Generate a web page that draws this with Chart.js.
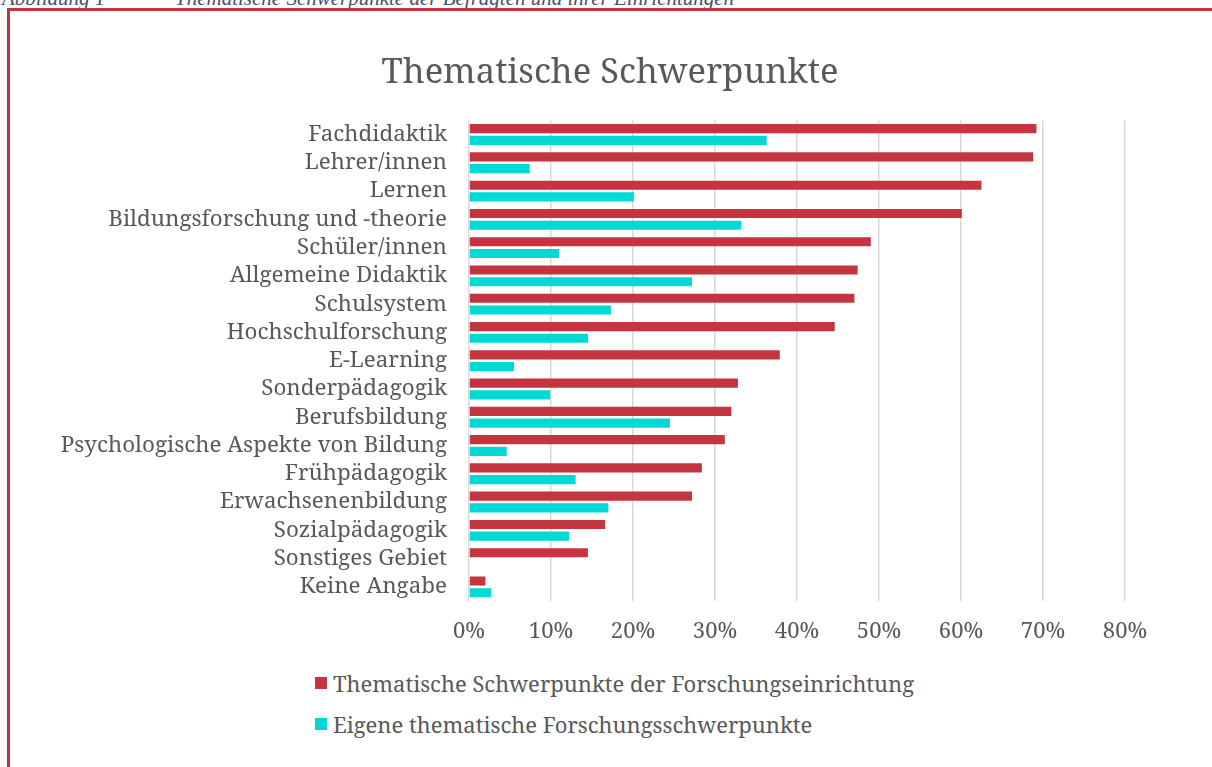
<!DOCTYPE html>
<html lang="de">
<head>
<meta charset="utf-8">
<title>Thematische Schwerpunkte</title>
<script src="https://cdn.jsdelivr.net/npm/chart.js@4.4.1/dist/chart.umd.min.js"></script>
<style>
  html, body { margin: 0; padding: 0; background: #fff; }
  body { width: 1212px; height: 767px; position: relative; overflow: hidden; font-family: "Noto Serif", "DejaVu Serif Condensed", serif; }
  #caption { position: absolute; left: 2px; top: -14px; font-family: "Liberation Serif", serif; font-style: italic; font-size: 21px; color: #44546A; white-space: nowrap; }
  #caption span { position: absolute; top: 0; white-space: nowrap; }
  #frame { position: absolute; left: 7px; top: 8px; width: 1230px; height: 790px; border-left: 3px solid #C0363F; border-top: 3px solid #C0363F; }
  #wrap { position: absolute; left: 10px; top: 11px; width: 1200px; height: 640px; }
  #legend { position: absolute; left: 315px; top: 668px; color: #595959; font-size: 22px; }
  #legend .item { display: flex; align-items: center; height: 30px; margin-bottom: 11px; white-space: nowrap; }
  #legend .box { width: 12px; height: 12px; margin-right: 6px; }
</style>
</head>
<body>
<div id="caption"><span style="left:0">Abbildung 1</span><span style="left:173px">Thematische Schwerpunkte der Befragten und ihrer Einrichtungen</span></div>
<div id="frame"></div>
<div id="wrap"><canvas id="barChart"></canvas></div>
<div id="legend"></div>
<script>
const categories = [
  "Fachdidaktik",
  "Lehrer/innen",
  "Lernen",
  "Bildungsforschung und -theorie",
  "Schüler/innen",
  "Allgemeine Didaktik",
  "Schulsystem",
  "Hochschulforschung",
  "E-Learning",
  "Sonderpädagogik",
  "Berufsbildung",
  "Psychologische Aspekte von Bildung",
  "Frühpädagogik",
  "Erwachsenenbildung",
  "Sozialpädagogik",
  "Sonstiges Gebiet",
  "Keine Angabe",
];
// percent of respondents
const institutionShares = [69.2, 68.8, 62.5, 60.1, 49.0, 47.4, 47.0, 44.6, 37.9, 32.8, 32.0, 31.2, 28.4, 27.2, 16.6, 14.5, 2.0];
const ownShares = [36.3, 7.4, 20.1, 33.2, 11.0, 27.2, 17.3, 14.5, 5.5, 9.9, 24.5, 4.6, 13.0, 17.0, 12.2, 0, 2.7];
const seriesNames = [
  "Thematische Schwerpunkte der Forschungseinrichtung",
  "Eigene thematische Forschungsschwerpunkte",
];
const tickLabels = ["0%", "10%", "20%", "30%", "40%", "50%", "60%", "70%", "80%"];

const textColor = "#595959";
const fontName = "'Noto Serif', 'DejaVu Serif Condensed', serif";

const ctz = document.getElementById("barChart");
const canvas = ctz.getContext("2d");

const barChart = new Chart(canvas, {
  type: "bar",
  data: {
    labels: categories,
    datasets: [
      {
        label: seriesNames[0],
        data: institutionShares,
        backgroundColor: "rgb(196, 53, 64)",
        categoryPercentage: 0.83,
        barPercentage: 0.78,
      },
      {
        label: seriesNames[1],
        data: ownShares,
        backgroundColor: "rgb(0, 217, 214)",
        categoryPercentage: 0.83,
        barPercentage: 0.78,
      },
    ],
  },
  options: {
    indexAxis: "y",
    responsive: true,
    maintainAspectRatio: false,
    animation: false,
    layout: { padding: 0 },
    plugins: {
      legend: { display: false },
      tooltip: { enabled: false },
      title: {
        display: true,
        text: "Thematische Schwerpunkte",
        color: textColor,
        font: { family: fontName, size: 34.5, weight: "normal" },
        padding: { top: 41, bottom: 27 },
      },
    },
    scales: {
      x: {
        min: 0,
        max: 80,
        ticks: {
          stepSize: 10,
          color: textColor,
          padding: 18,
          font: { family: fontName, size: 22 },
          callback: (v, i) => tickLabels[i],
        },
        grid: { color: "#D9D9D9", lineWidth: 1.5, drawTicks: false },
        border: { display: false },
        afterFit: (scale) => { scale.height = 50; },
      },
      y: {
        ticks: {
          color: textColor,
          padding: 22,
          autoSkip: false,
          font: { family: fontName, size: 22.4 },
        },
        grid: { display: false, drawTicks: false },
        border: { display: false },
        afterFit: (scale) => { scale.width = 459; },
      },
      // empty right-hand axis, only keeps the margin right of the plot
      yRight: {
        type: "category",
        position: "right",
        ticks: { display: false },
        grid: { display: false, drawTicks: false },
        border: { display: false },
        afterFit: (scale) => { scale.width = 85; },
      },
    },
  },
});

// html legend built from the chart's own legend items
const legendBox = document.getElementById("legend");
barChart.options.plugins.legend.labels.generateLabels(barChart).forEach((item) => {
  const row = document.createElement("div");
  row.className = "item";
  const box = document.createElement("span");
  box.className = "box";
  box.style.background = item.fillStyle;
  const txt = document.createElement("span");
  txt.textContent = item.text;
  row.appendChild(box);
  row.appendChild(txt);
  legendBox.appendChild(row);
});
</script>
</body>
</html>
